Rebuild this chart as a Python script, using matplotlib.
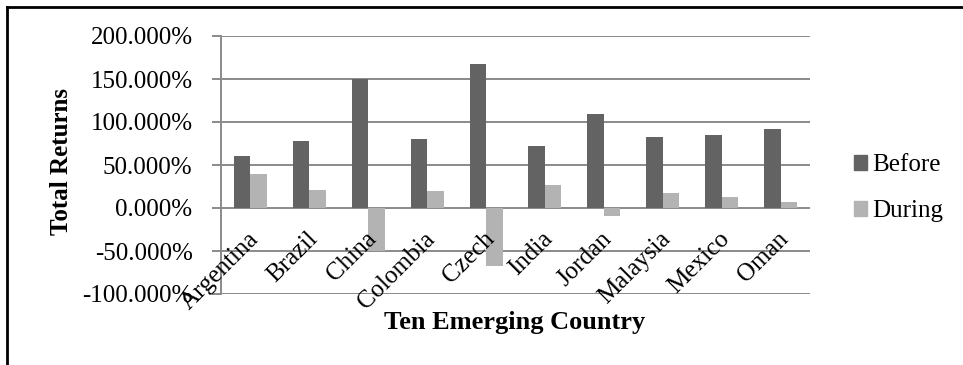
import matplotlib
matplotlib.use("Agg")
import matplotlib.pyplot as plt
import numpy as np
from matplotlib.lines import Line2D
from matplotlib.patches import Patch

plt.rcParams['font.family'] = ['Liberation Serif', 'DejaVu Serif']

countries = ["Argentina", "Brazil", "China", "Colombia", "Czech",
             "India", "Jordan", "Malaysia", "Mexico", "Oman"]
before = [60, 78, 150, 80, 167, 72.5, 109, 82, 85, 91.5]
during = [40, 21, -50, 20, -67, 27, -9, 17.5, 13, 7.5]
yticks = [-100, -50, 0, 50, 100, 150, 200]

c_before = "#636363"
c_during = "#b3b3b3"
grid_c = "#8a8a8a"

fig = plt.figure(figsize=(9.63, 3.65), dpi=100)
ax = fig.add_axes([221/963, 1-294/365, (810-221)/963, (294-36)/365])

x = np.arange(len(countries))
w = 0.28
ax.bar(x - w/2, before, width=w, color=c_before, zorder=3)
ax.bar(x + w/2, during, width=w, color=c_during, zorder=3)

ax.set_xlim(-0.5, len(countries) - 0.5)
ax.set_ylim(-100, 200)
ax.set_yticks(yticks)
ax.set_yticklabels([f"{v:.3f}%" for v in yticks], fontsize=18)
ax.yaxis.grid(True, color=grid_c, linewidth=1.4, zorder=0)
ax.set_xticks([])
for s in ["top", "right", "bottom"]:
    ax.spines[s].set_visible(False)
ax.spines["left"].set_color(grid_c)
ax.spines["left"].set_linewidth(1.4)
ax.tick_params(axis='y', length=6.5, width=1.4, color=grid_c, pad=14)

for i, name in enumerate(countries):
    ax.text(i + 0.08, -32, name, rotation=45, ha='right', va='center',
            rotation_mode='anchor', fontsize=18, zorder=4)

fig.text(62/963, 1-161/365, "Total Returns", rotation=90, ha='center', va='center',
         fontsize=18, fontweight='bold')
fig.text(515/963, 1-322/365, "Ten Emerging Country", ha='center', va='center',
         fontsize=19, fontweight='bold')

handles = [Patch(color=c_before), Patch(color=c_during)]
fig.legend(handles, ["Before", "During"], loc='center left',
           bbox_to_anchor=(831/963, 1-188/365), bbox_transform=fig.transFigure,
           frameon=False, fontsize=18, handlelength=0.55, handleheight=0.55,
           handletextpad=0.2, labelspacing=0.95)

fig.add_artist(Line2D([7/963, 7/963], [0, 1-7/365], color='black', linewidth=2,
                      transform=fig.transFigure))
fig.add_artist(Line2D([7/963, 1], [1-7/365, 1-7/365], color='black', linewidth=2,
                      transform=fig.transFigure))

fig.savefig("out.png", dpi=100)
